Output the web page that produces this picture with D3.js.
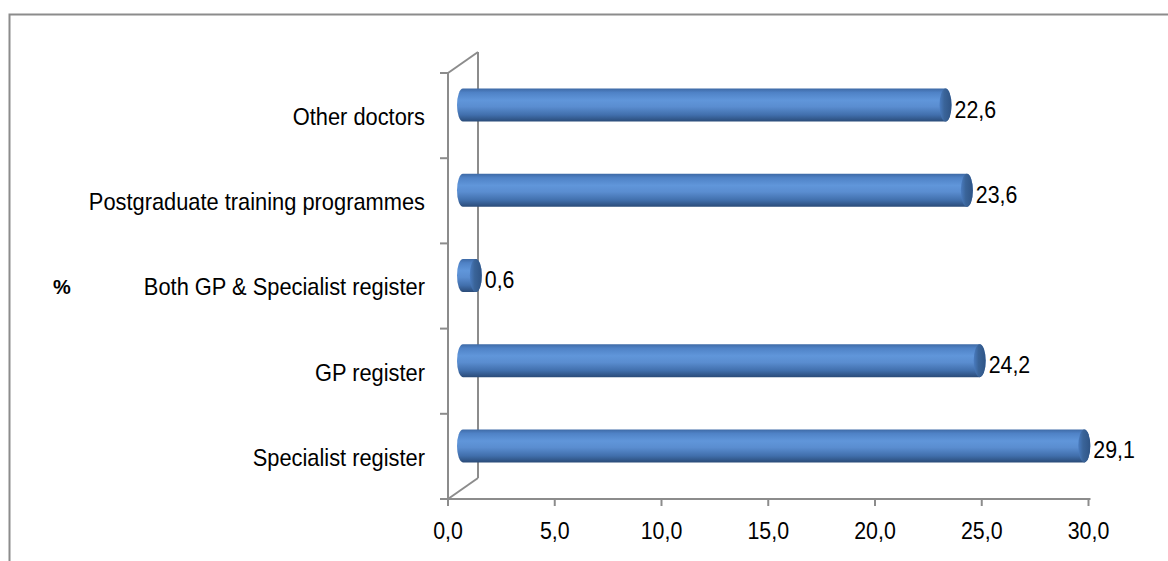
<!DOCTYPE html>
<html><head><meta charset="utf-8">
<script src="https://cdn.jsdelivr.net/npm/d3@7"></script>
<style>body{margin:0;background:#fff;}svg{display:block;font-family:"Liberation Sans",Arial,sans-serif;}</style>
</head><body>
<svg id="c" width="1168" height="561"></svg>
<script>
const categories = ["Other doctors","Postgraduate training programmes","Both GP & Specialist register","GP register","Specialist register"];
const values = [22.6, 23.6, 0.6, 24.2, 29.1];
const xTicks = [0,5,10,15,20,25,30];
const axisLabel = "%";

const svg = d3.select("#c");
const fmt = d3.formatLocale({decimal:",",thousands:".",grouping:[3],currency:["","€"]}).format(".1f");
const FS = 24;

// condensed text helper: anchor at (px,py), horizontal squeeze
function ctext(sel, px, py, str, anchor, sx){
  return sel.append("text")
    .attr("transform",`translate(${px},${py}) scale(${sx},1)`)
    .attr("text-anchor",anchor).attr("dy","0.35em")
    .attr("font-size",FS).attr("fill","#000").text(str);
}

// outer frame
svg.append("rect").attr("x",9.5).attr("y",14.5).attr("width",1300).attr("height",700)
  .attr("fill","none").attr("stroke","#8c8c8c").attr("stroke-width",2);

const pLeft = 448, pRight = 1088.5, pTop = 73, pBottom = 499;
const dx = 30, dy = -21; // depth of back wall
const x = d3.scaleLinear().domain([0,30]).range([pLeft,pRight]);
const y = d3.scaleBand().domain(categories).range([pTop,pBottom]).paddingInner(0).paddingOuter(0);

const defs = svg.append("defs");
const g1 = defs.append("linearGradient").attr("id","cyl").attr("x1",0).attr("y1",0).attr("x2",0).attr("y2",1);
[[0,"#3e6aa6"],[0.12,"#4f82c6"],[0.35,"#6096da"],[0.55,"#5a8dd0"],[0.8,"#416fac"],[1,"#2a4b78"]]
  .forEach(([o,c])=>g1.append("stop").attr("offset",o).attr("stop-color",c));
const g2 = defs.append("linearGradient").attr("id","cap").attr("x1",0).attr("y1",0).attr("x2",1).attr("y2",0);
[[0,"#4a7cc0"],[0.4,"#3a6499"],[1,"#2f5485"]].forEach(([o,c])=>g2.append("stop").attr("offset",o).attr("stop-color",c));

const axisColor = "#8c8c8c";
// walls
svg.append("line").attr("x1",pLeft).attr("y1",pTop).attr("x2",pLeft+dx).attr("y2",pTop+dy).attr("stroke",axisColor).attr("stroke-width",2);
svg.append("line").attr("x1",pLeft+dx).attr("y1",pTop+dy).attr("x2",pLeft+dx).attr("y2",pBottom+dy).attr("stroke",axisColor).attr("stroke-width",2);
svg.append("line").attr("x1",pLeft).attr("y1",pBottom).attr("x2",pLeft+dx).attr("y2",pBottom+dy).attr("stroke",axisColor).attr("stroke-width",2);
svg.append("line").attr("x1",pLeft).attr("y1",pTop).attr("x2",pLeft).attr("y2",pBottom).attr("stroke",axisColor).attr("stroke-width",2);
// y ticks
const yb = categories.map(c=>y(c)).concat([pBottom]);
svg.selectAll(".yt").data(yb).enter().append("line")
  .attr("x1",pLeft-8).attr("x2",pLeft).attr("y1",d=>d).attr("y2",d=>d).attr("stroke",axisColor).attr("stroke-width",2);
// x axis
svg.append("line").attr("x1",pLeft).attr("x2",pRight+2).attr("y1",pBottom).attr("y2",pBottom).attr("stroke",axisColor).attr("stroke-width",2);
svg.selectAll(".xt").data(xTicks).enter().append("line")
  .attr("x1",d=>x(d)).attr("x2",d=>x(d)).attr("y1",pBottom).attr("y2",pBottom+7).attr("stroke",axisColor).attr("stroke-width",2);
xTicks.forEach(t=>ctext(svg, x(t), 531, fmt(t), "middle", 0.89));

// bars
const bh = 33, rx = 6;
const bars = svg.selectAll(".bar").data(categories.map((c,i)=>({c,v:values[i]}))).enter().append("g");
bars.each(function(d){
  const g = d3.select(this);
  const cy = y(d.c) + y.bandwidth()/2 + dy/2;
  const x0 = x(0) + dx/2, x1 = x(d.v) + dx/2;
  g.append("path").attr("d",`M${x0},${cy-bh/2} L${x1},${cy-bh/2} A${rx},${bh/2} 0 0 1 ${x1},${cy+bh/2} L${x0},${cy+bh/2} A${rx},${bh/2} 0 0 1 ${x0},${cy-bh/2} Z`)
    .attr("fill","url(#cyl)");
  g.append("ellipse").attr("cx",x1).attr("cy",cy).attr("rx",rx).attr("ry",bh/2).attr("fill","url(#cap)");
  ctext(g, x1+rx+3, cy+4, fmt(d.v), "start", 0.89);
  ctext(g, 425, y(d.c)+y.bandwidth()/2+1, d.c, "end", 0.91);
});

svg.append("text").attr("x",62).attr("y",287).attr("dy","0.35em").attr("text-anchor","middle").attr("font-size",20).attr("font-weight","bold").text(axisLabel);
</script>
</body></html>
